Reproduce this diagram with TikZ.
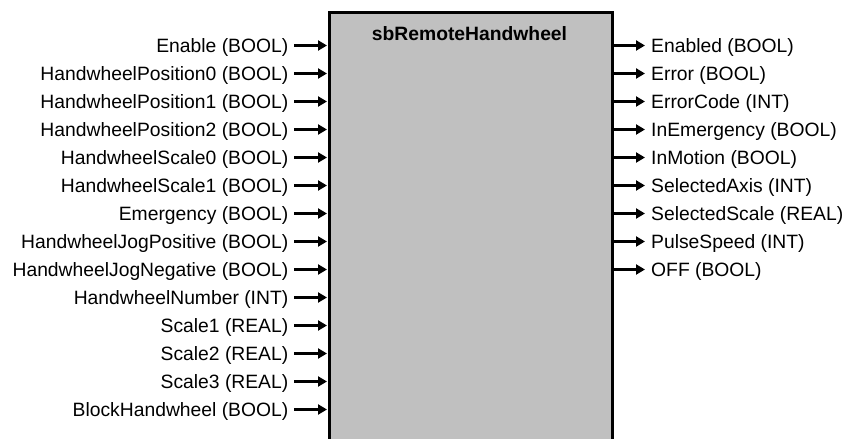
\documentclass[tikz,border=0pt]{standalone}
\usepackage{fontspec}
\setmainfont{Liberation Sans}
\usetikzlibrary{arrows.meta}
\definecolor{boxgray}{RGB}{192,192,192}
\begin{document}
\begin{tikzpicture}[x=1bp,y=-1bp,
  lbl/.style={inner sep=0pt,font=\fontsize{19.3bp}{23bp}\selectfont},
  pin/.style={line width=2.5bp,-{Triangle[length=9bp,width=10bp]}},
  fb/.style={fill=boxgray,draw=black,line width=3bp}]
\useasboundingbox (0,0) rectangle (844,439);
\clip (0,0) rectangle (844,439);
\node[fb,anchor=north west,minimum width=283bp,minimum height=520bp,inner sep=0pt] (box) at (328,11) {};
\node[lbl,font=\bfseries\fontsize{19.3bp}{23bp}\selectfont,anchor=center] (title) at (469.5,34) {sbRemoteHandwheel};
\foreach \t [count=\i from 0] in {Enable (BOOL),HandwheelPosition0 (BOOL),HandwheelPosition1 (BOOL),HandwheelPosition2 (BOOL),HandwheelScale0 (BOOL),HandwheelScale1 (BOOL),Emergency (BOOL),HandwheelJogPositive (BOOL),HandwheelJogNegative (BOOL),HandwheelNumber (INT),Scale1 (REAL),Scale2 (REAL),Scale3 (REAL),BlockHandwheel (BOOL)}{
  \node[lbl,anchor=east] (il\i) at (288.5,{47.5+28*\i}) {\t};
  \coordinate (ip\i) at (327,{45.5+28*\i});
  \draw[pin,shorten <=5.5bp] (il\i.east |- ip\i) -- (ip\i);
}
\foreach \t [count=\i from 0] in {Enabled (BOOL),Error (BOOL),ErrorCode (INT),InEmergency (BOOL),InMotion (BOOL),SelectedAxis (INT),SelectedScale (REAL),PulseSpeed (INT),OFF (BOOL)}{
  \node[lbl,anchor=west] (ol\i) at (651,{47.5+28*\i}) {\t};
  \coordinate (op\i) at (613,{45.5+28*\i});
  \draw[pin,shorten >=6bp] (op\i) -- (ol\i.west |- op\i);
}
\end{tikzpicture}
\end{document}
